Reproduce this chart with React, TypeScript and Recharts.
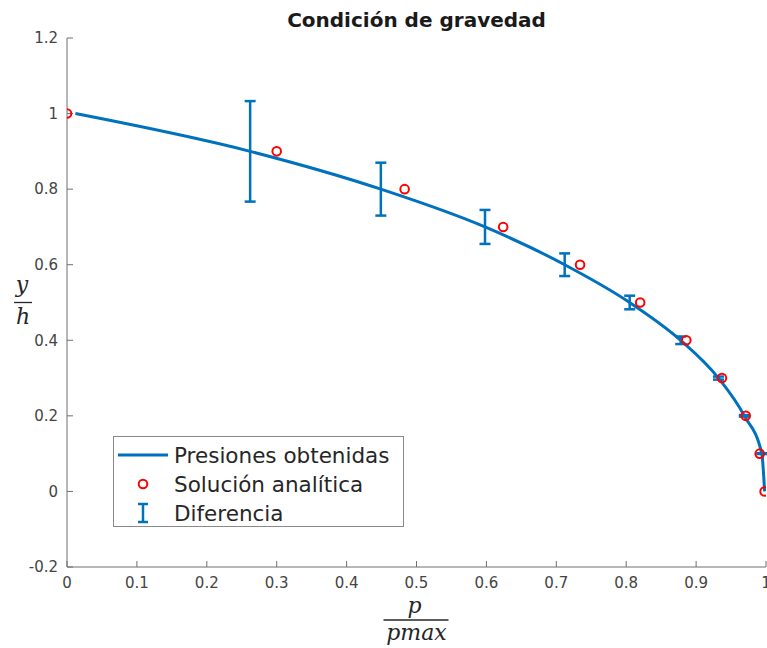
import { ComposedChart, Line, Scatter, ErrorBar, XAxis, YAxis, Legend, Label } from 'recharts'

// curve obtained from the simulation (y/h vs p/pmax)
const curveX = [0.012, 0.262, 0.449, 0.598, 0.712, 0.805, 0.878, 0.932, 0.969, 0.994, 0.998]
const curveY = [1.0, 0.9, 0.8, 0.7, 0.6, 0.5, 0.4, 0.3, 0.2, 0.1, 0.0]
const curveErr = [0, 0.133, 0.07, 0.045, 0.03, 0.018, 0.01, 0.004, 0.002, 0.001, 0]

// analytical solution
const exactX = [0.0, 0.3, 0.483, 0.624, 0.734, 0.82, 0.886, 0.937, 0.971, 0.991, 0.998]
const exactY = [1.0, 0.9, 0.8, 0.7, 0.6, 0.5, 0.4, 0.3, 0.2, 0.1, 0.0]

const xTicks = [0, 0.1, 0.2, 0.3, 0.4, 0.5, 0.6, 0.7, 0.8, 0.9, 1]
const yTicks = [-0.2, 0, 0.2, 0.4, 0.6, 0.8, 1, 1.2]

const BLUE = '#0072BD'
const RED = '#FF0000'
const AXIS = '#6f6f6f'
const TICK_TEXT = '#444'
const FONT = '"DejaVu Sans", sans-serif'
const SERIF = '"DejaVu Serif", serif'

const curveData = curveX.map((x, i) => ({ x, y: curveY[i], err: curveErr[i] }))
const exactData = exactX.map((x, i) => ({ x, y: exactY[i] }))

const fmt = (v: number) => String(Math.round(v * 10) / 10)

function RedMarker(props: any) {
  const { cx, cy } = props
  if (cx == null || cy == null) return null
  return <circle cx={cx} cy={cy} r={4.3} fill="none" stroke={RED} strokeWidth={2} />
}

function LegendBox() {
  const row = { display: 'flex', alignItems: 'center', height: 29 }
  const text = { fontFamily: FONT, fontSize: 21.5, color: '#262626', marginLeft: 6, whiteSpace: 'nowrap' as const }
  return (
    <div style={{ border: '1px solid #8a8a8a', background: '#fff', width: 291, height: 91, padding: '3.5px 0 0 4px', boxSizing: 'border-box' }}>
      <div style={row}>
        <svg width={50} height={10}><line x1={0} y1={5} x2={50} y2={5} stroke={BLUE} strokeWidth={3} /></svg>
        <span style={text}>Presiones obtenidas</span>
      </div>
      <div style={row}>
        <svg width={50} height={14}><circle cx={25} cy={7} r={4.3} fill="none" stroke={RED} strokeWidth={2} /></svg>
        <span style={text}>Solución analítica</span>
      </div>
      <div style={row}>
        <svg width={50} height={22}>
          <line x1={25} y1={2} x2={25} y2={20} stroke={BLUE} strokeWidth={2.5} />
          <line x1={20} y1={2} x2={30} y2={2} stroke={BLUE} strokeWidth={2.5} />
          <line x1={20} y1={20} x2={30} y2={20} stroke={BLUE} strokeWidth={2.5} />
        </svg>
        <span style={text}>Diferencia</span>
      </div>
    </div>
  )
}

function XFraction(props: any) {
  const { viewBox } = props
  const cx = viewBox.x + viewBox.width / 2
  const top = viewBox.y
  return (
    <g fontFamily={SERIF} fontStyle="italic" fontSize={22} fill="#262626" textAnchor="middle">
      <text x={cx - 2} y={top + 46}>p</text>
      <line x1={cx - 33} y1={top + 53} x2={cx + 32} y2={top + 53} stroke="#262626" strokeWidth={1.3} />
      <text x={cx} y={top + 73}>pmax</text>
    </g>
  )
}

function YFraction(props: any) {
  const { viewBox } = props
  const cy = viewBox.y + viewBox.height / 2
  return (
    <g fontFamily={SERIF} fontStyle="italic" fontSize={22} fill="#262626" textAnchor="middle">
      <text x={22} y={cy - 11}>y</text>
      <line x1={14} y1={cy} x2={32} y2={cy} stroke="#262626" strokeWidth={1.3} />
      <text x={23} y={cy + 21}>h</text>
    </g>
  )
}

export default function App() {
  const tickStyle = { fill: TICK_TEXT, fontSize: 15, fontFamily: FONT }
  return (
    <div style={{ position: 'absolute', left: 0, top: 0, width: 767, height: 648, background: '#fff' }}>
      <style>{'body{margin:0}'}</style>
      <div style={{ position: 'absolute', left: 67, width: 699, top: 8, textAlign: 'center', fontFamily: FONT, fontWeight: 'bold', fontSize: 20, color: '#1a1a1a' }}>
        Condición de gravedad
      </div>
      <ComposedChart width={767} height={648} margin={{ top: 38, right: 1, bottom: 0, left: 0 }}>
        <XAxis
          xAxisId="b"
          dataKey="x"
          type="number"
          domain={[0, 1]}
          ticks={xTicks}
          interval={0}
          tickFormatter={fmt}
          height={81}
          stroke={AXIS}
          tickSize={-6}
          tickMargin={16}
          tick={tickStyle}
          allowDataOverflow
        >
          <Label content={XFraction} />
        </XAxis>
        <XAxis xAxisId="t" orientation="top" dataKey="x" type="number" domain={[0, 1]} ticks={xTicks} interval={0} height={0} stroke={AXIS} tickSize={-6} tick={false} />
        <YAxis
          yAxisId="l"
          type="number"
          domain={[-0.2, 1.2]}
          ticks={yTicks}
          interval={0}
          tickFormatter={fmt}
          width={67}
          stroke={AXIS}
          tickSize={-6}
          tickMargin={15}
          tick={tickStyle}
          allowDataOverflow
        >
          <Label content={YFraction} />
        </YAxis>
        <YAxis yAxisId="r" orientation="right" type="number" domain={[-0.2, 1.2]} ticks={yTicks} interval={0} width={0} stroke={AXIS} tickSize={-6} tick={false} />
        <Line
          xAxisId="b"
          yAxisId="l"
          data={curveData}
          dataKey="y"
          type="monotone"
          stroke={BLUE}
          strokeWidth={3}
          dot={false}
          isAnimationActive={false}
        >
          <ErrorBar dataKey="err" direction="y" width={5.5} stroke={BLUE} strokeWidth={2.5} />
        </Line>
        <Scatter
          xAxisId="b"
          yAxisId="l"
          data={exactData}
          dataKey="y"
          shape={RedMarker}
          isAnimationActive={false}
        />
        <Legend
          layout="horizontal"
          verticalAlign="middle"
          align="center"
          content={LegendBox}
          wrapperStyle={{ left: 113, top: 436, width: 291, height: 91 }}
        />
      </ComposedChart>
    </div>
  )
}
